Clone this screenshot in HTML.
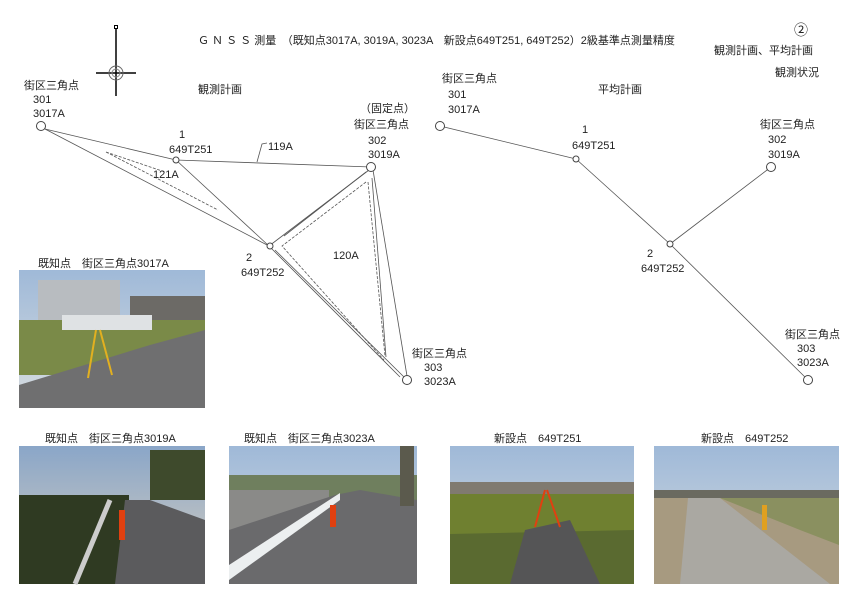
<!DOCTYPE html>
<html><head><meta charset="utf-8"><style>
body{margin:0;background:#fff;}
svg{display:block}
text{font-family:"Liberation Sans","Noto Sans CJK JP",sans-serif;font-size:11px;fill:#222}
</style></head><body>
<svg width="854" height="601" viewBox="0 0 854 601" xmlns="http://www.w3.org/2000/svg">
<defs>
<linearGradient id="sky" x1="0" y1="0" x2="0" y2="1"><stop offset="0" stop-color="#9fb9d8"/><stop offset="1" stop-color="#d8dde0"/></linearGradient>
<linearGradient id="sky2" x1="0" y1="0" x2="0" y2="1"><stop offset="0" stop-color="#8aa6c8"/><stop offset="1" stop-color="#d9d0c0"/></linearGradient>
</defs>
<text x="198" y="44">Ｇ Ｎ Ｓ Ｓ 測量　（既知点3017A, 3019A, 3023A　新設点649T251, 649T252）2級基準点測量精度</text>
<text x="794" y="35" style="font-size:14px">②</text>
<text x="714" y="54">観測計画、平均計画</text>
<text x="775" y="76">観測状況</text>
<text x="198" y="93">観測計画</text>
<text x="598" y="93">平均計画</text>
<!-- compass -->
<g stroke="#000" fill="none">
<rect x="114.5" y="25.5" width="3" height="3" stroke-width="1"/>
<line x1="116" y1="29" x2="116" y2="96" stroke-width="1.5"/>
<line x1="96" y1="73" x2="136" y2="73" stroke-width="1.5"/>
<circle cx="116" cy="73" r="7" stroke="#666"/>
<circle cx="116" cy="73" r="4" stroke="#888"/>
</g>
<!-- left diagram -->
<g stroke="#555" fill="none" stroke-width="0.8">
<line x1="45" y1="129" x2="176" y2="160"/>
<line x1="45" y1="129" x2="269" y2="246"/>
<line x1="176" y1="160" x2="371" y2="167"/>
<line x1="176" y1="160" x2="269" y2="246"/>
<path d="M257 162 L262 144 L267 143"/>
<path d="M106 152 L218 210 M106 152 L165 172" stroke-dasharray="3,1.5"/>
<line x1="269" y1="246" x2="369" y2="170"/>
<line x1="275" y1="250" x2="404" y2="377"/>
<line x1="269" y1="246" x2="400" y2="377"/>
<line x1="373" y1="170" x2="407" y2="376"/>
<line x1="366" y1="172" x2="284" y2="236"/>
<line x1="372" y1="178" x2="386" y2="357"/>
<path d="M366 182 L282 246 L384 360 M368 182 L385 356" stroke-dasharray="3,1.5"/>
</g>
<g fill="#fff" stroke="#444">
<circle cx="41" cy="126" r="4.5"/><circle cx="176" cy="160" r="3"/><circle cx="371" cy="167" r="4.5"/><circle cx="270" cy="246" r="3"/><circle cx="407" cy="380" r="4.5"/>
</g>
<text x="24" y="89">街区三角点</text><text x="33" y="103">301</text><text x="33" y="117">3017A</text>
<text x="179" y="138">1</text><text x="169" y="153">649T251</text>
<text x="268" y="150">119A</text><text x="153" y="178">121A</text>
<text x="360" y="112">（固定点）</text><text x="354" y="128">街区三角点</text><text x="368" y="144">302</text><text x="368" y="158">3019A</text>
<text x="246" y="261">2</text><text x="241" y="276">649T252</text>
<text x="333" y="259">120A</text>
<text x="412" y="357">街区三角点</text><text x="424" y="371">303</text><text x="424" y="385">3023A</text>
<!-- right diagram -->
<g stroke="#555" fill="none" stroke-width="0.8">
<line x1="440" y1="126" x2="576" y2="159"/>
<line x1="576" y1="159" x2="670" y2="244"/>
<line x1="670" y1="244" x2="771" y2="167"/>
<line x1="670" y1="244" x2="808" y2="380"/>
</g>
<g fill="#fff" stroke="#444">
<circle cx="440" cy="126" r="4.5"/><circle cx="576" cy="159" r="3"/><circle cx="771" cy="167" r="4.5"/><circle cx="670" cy="244" r="3"/><circle cx="808" cy="380" r="4.5"/>
</g>
<text x="442" y="82">街区三角点</text><text x="448" y="98">301</text><text x="448" y="113">3017A</text>
<text x="582" y="133">1</text><text x="572" y="149">649T251</text>
<text x="760" y="128">街区三角点</text><text x="768" y="143">302</text><text x="768" y="158">3019A</text>
<text x="647" y="257">2</text><text x="641" y="272">649T252</text>
<text x="785" y="338">街区三角点</text><text x="797" y="352">303</text><text x="797" y="366">3023A</text>
<!-- photo labels -->
<text x="38" y="267">既知点　街区三角点3017A</text>
<text x="45" y="442">既知点　街区三角点3019A</text>
<text x="244" y="442">既知点　街区三角点3023A</text>
<text x="494" y="442">新設点　649T251</text>
<text x="701" y="442">新設点　649T252</text>
<!-- photo 0 -->
<rect x="19" y="270" width="186" height="138" fill="url(#sky)"/>
<rect x="38" y="280" width="82" height="45" fill="#b8bcc0"/>
<rect x="130" y="296" width="75" height="35" fill="#6c6a66"/>
<rect x="19" y="320" width="186" height="55" fill="#7a8a48"/>
<polygon points="19,408 19,385 150,345 205,330 205,408" fill="#6f6f70"/>
<rect x="62" y="315" width="90" height="15" fill="#dfe2e4"/>
<line x1="96" y1="330" x2="88" y2="378" stroke="#e2b020" stroke-width="2"/><line x1="100" y1="330" x2="112" y2="375" stroke="#e2b020" stroke-width="2"/>
<!-- photo 1 -->
<rect x="19" y="446" width="186" height="138" fill="url(#sky2)"/>
<rect x="19" y="495" width="110" height="89" fill="#2f3a22"/>
<rect x="150" y="450" width="55" height="50" fill="#3e4a2c"/>
<polygon points="115,584 125,500 150,500 205,520 205,584" fill="#5b5b5d"/>
<line x1="110" y1="500" x2="75" y2="584" stroke="#ccc" stroke-width="5"/>
<rect x="119" y="510" width="6" height="30" fill="#e04010"/>
<!-- photo 2 -->
<rect x="229" y="446" width="188" height="138" fill="url(#sky)"/>
<rect x="229" y="475" width="188" height="25" fill="#6f7f5e"/>
<rect x="229" y="490" width="100" height="40" fill="#8a8a88"/>
<polygon points="229,584 229,530 335,495 360,490 417,500 417,584" fill="#6a6a6c"/>
<polygon points="229,565 229,580 340,500 340,493" fill="#eceff0"/>
<rect x="400" y="446" width="14" height="60" fill="#5b5a4d"/>
<rect x="330" y="505" width="6" height="22" fill="#e04010"/>
<!-- photo 3 -->
<rect x="450" y="446" width="184" height="138" fill="url(#sky)"/>
<rect x="450" y="482" width="184" height="12" fill="#807a70"/>
<rect x="450" y="494" width="184" height="40" fill="#6f8030"/>
<polygon points="450,534 634,530 634,584 450,584" fill="#5a6a30"/>
<polygon points="510,584 525,530 570,520 600,584" fill="#555556"/>
<line x1="545" y1="490" x2="535" y2="527" stroke="#e04010" stroke-width="2"/><line x1="547" y1="490" x2="560" y2="527" stroke="#e04010" stroke-width="2"/>
<!-- photo 4 -->
<rect x="654" y="446" width="185" height="138" fill="url(#sky)"/>
<rect x="654" y="490" width="185" height="8" fill="#6a6a60"/>
<rect x="654" y="498" width="185" height="86" fill="#a79a80"/>
<polygon points="720,498 839,498 839,545 800,530" fill="#8a9060"/>
<polygon points="680,584 688,498 720,498 830,584" fill="#aaa8a2"/>
<rect x="762" y="505" width="5" height="25" fill="#e0a020"/>
</svg>
</body></html>
